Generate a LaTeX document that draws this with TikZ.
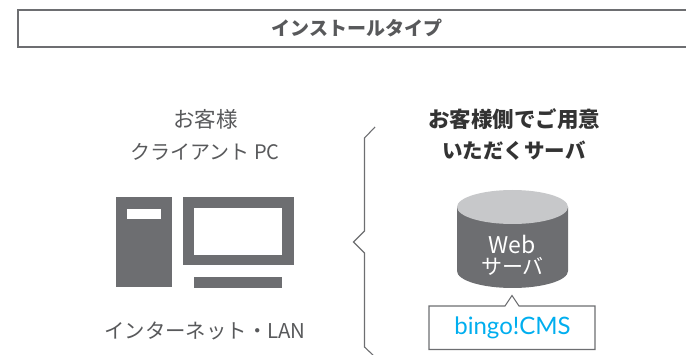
\documentclass[tikz,border=0pt]{standalone}
\usepackage{fontspec}
\setmainfont{Noto Sans CJK JP}
\newfontfamily\logofont{Lato}
\usetikzlibrary{positioning}
\definecolor{darkgray}{HTML}{6D6E71}
\definecolor{lightgray}{HTML}{C7C8CA}
\definecolor{textgray}{HTML}{58595B}
\definecolor{logoblue}{HTML}{00AEEF}
\tikzset{
    titlebox/.style={rectangle, draw=darkgray, line width=1.1pt, minimum width=680pt, minimum height=37pt, inner sep=0pt},
    label/.style={text=textgray, font=\fontsize{20.4}{24}\selectfont, inner sep=0pt},
    boldlabel/.style={text=black!80, font=\fontsize{21.5}{24}\selectfont\bfseries, inner sep=0pt},
    solid part/.style={rectangle, fill=darkgray, inner sep=0pt},
    white part/.style={rectangle, fill=white, inner sep=0pt},
    servertext/.style={text=white, font=\fontsize{21}{22}\selectfont, inner sep=0pt}
}

\begin{document}
\begin{tikzpicture}[x=1pt, y=-1pt, node distance=14pt]
    \useasboundingbox (0,0) rectangle (686,355);

    % title
    \node[titlebox] (title) at (358,28.5) {};
    \node[text=textgray, font=\fontsize{19}{20}\selectfont\bfseries, inner sep=0pt] (titletext) at (357,28) {インストールタイプ};

    % client side
    \node[label, font=\fontsize{21.5}{24}\selectfont] (guest) at (205.5,119) {お客様};
    \node[label, font=\fontsize{20}{24}\selectfont] (client) at (205,152) {クライアント PC};
    \node[solid part, minimum width=56pt, minimum height=90pt] (tower) at (144,242) {};
    \node[white part, minimum width=34pt, minimum height=10pt] (slot) at (144,214) {};
    \node[solid part, minimum width=111pt, minimum height=68pt] (monitor) at (238.5,231) {};
    \node[white part, minimum width=88pt, minimum height=47pt] (screen) at (238,231.5) {};
    \node[solid part, minimum width=88pt, minimum height=11pt] (stand) at (238,282.5) {};
    \node[label] (network) at (205,331) {インターネット・LAN};

    % brace
    \draw[darkgray, line width=1.1pt] (375,127) -- (364.5,138) -- (364.5,231) -- (353.5,242) -- (364.5,253) -- (364.5,347) -- (374,356);

    % server side
    \node[boldlabel] (prepare) at (514,119) {お客様側でご用意};
    \node[boldlabel, font=\fontsize{20.5}{24}\selectfont\bfseries] (prepare2) at (514,151) {いただくサーバ};
    \fill[darkgray] (457,207) -- (457,271) arc[start angle=180, end angle=360, x radius=55.5pt, y radius=17pt] -- (568,207) -- cycle;
    \fill[lightgray] (512.5,207) ellipse[x radius=55.5pt, y radius=17pt];
    \node[servertext, font=\fontsize{23}{24}\selectfont] (web) at (512,244) {Web};
    \node[servertext] (server) at (512.5,266) {サーバ};

    % callout
    \draw[darkgray, line width=1.1pt, fill=white] (429,306) -- (505,306) -- (512,295.5) -- (519,306) -- (595,306) -- (595,349.5) -- (429,349.5) -- cycle;
    \node[text=logoblue, font=\logofont\fontsize{24}{28}\selectfont, inner sep=0pt] (cms) at (512.5,328) {bingo!CMS};
\end{tikzpicture}
\end{document}
